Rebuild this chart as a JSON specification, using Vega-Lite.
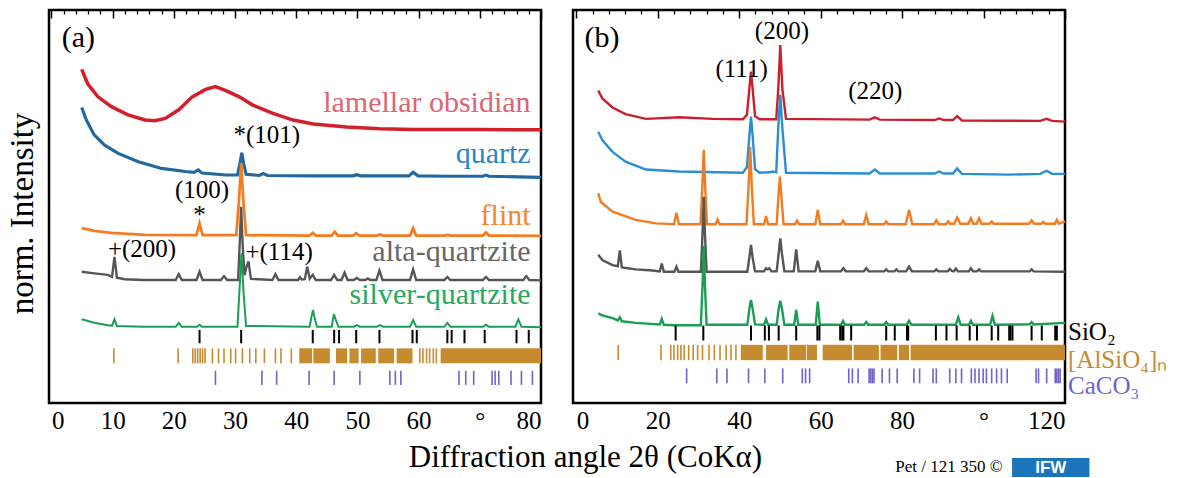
{
"$schema": "https://vega.github.io/schema/vega-lite/v6.json",
"background": "white",
"padding": {"left": 4, "top": 8, "right": 0, "bottom": 0},
"bounds": "flush",
"spacing": 32,
"config": {
 "view": {"stroke": "black", "strokeWidth": 2.5},
 "font": "Liberation Serif",
 "text": {"font": "Liberation Serif", "color": "black"},
 "axis": {"grid": false, "domain": false, "labelFont": "Liberation Serif", "titleFont": "Liberation Serif", "labelColor": "black", "titleColor": "black", "tickColor": "black", "titleFontWeight": "normal"}
},
"datasets": {
 "specA": [
  {"sample":"lamellar obsidian","angle":4.95,"intensity":84.9},{"sample":"lamellar obsidian","angle":5.9,"intensity":81.3},{"sample":"lamellar obsidian","angle":7.6,"intensity":77.9},{"sample":"lamellar obsidian","angle":9.8,"intensity":75.4},{"sample":"lamellar obsidian","angle":12.5,"intensity":73.3},{"sample":"lamellar obsidian","angle":15.3,"intensity":72.0},{"sample":"lamellar obsidian","angle":16.9,"intensity":71.8},{"sample":"lamellar obsidian","angle":18.6,"intensity":72.4},{"sample":"lamellar obsidian","angle":20.8,"intensity":74.6},{"sample":"lamellar obsidian","angle":23.0,"intensity":77.9},{"sample":"lamellar obsidian","angle":25.2,"intensity":79.8},{"sample":"lamellar obsidian","angle":26.8,"intensity":80.5},{"sample":"lamellar obsidian","angle":28.5,"intensity":79.5},{"sample":"lamellar obsidian","angle":30.7,"intensity":77.9},{"sample":"lamellar obsidian","angle":32.9,"intensity":75.8},{"sample":"lamellar obsidian","angle":36.2,"intensity":73.7},{"sample":"lamellar obsidian","angle":39.5,"intensity":72.0},{"sample":"lamellar obsidian","angle":42.8,"intensity":71.0},{"sample":"lamellar obsidian","angle":48.2,"intensity":70.2},{"sample":"lamellar obsidian","angle":53.7,"intensity":69.8},{"sample":"lamellar obsidian","angle":59.2,"intensity":69.6},{"sample":"lamellar obsidian","angle":64.7,"intensity":69.6},{"sample":"lamellar obsidian","angle":70.2,"intensity":69.6},{"sample":"lamellar obsidian","angle":75.7,"intensity":69.5},{"sample":"lamellar obsidian","angle":80,"intensity":69.5},
  {"sample":"quartz","angle":4.95,"intensity":75.2},{"sample":"quartz","angle":5.7,"intensity":72.0},{"sample":"quartz","angle":7.0,"intensity":68.2},{"sample":"quartz","angle":8.7,"intensity":65.6},{"sample":"quartz","angle":10.9,"intensity":63.5},{"sample":"quartz","angle":14.2,"intensity":61.4},{"sample":"quartz","angle":18.0,"intensity":59.7},{"sample":"quartz","angle":21.9,"intensity":58.9},{"sample":"quartz","angle":23.3,"intensity":58.7},{"sample":"quartz","angle":24.0,"intensity":59.3},{"sample":"quartz","angle":24.6,"intensity":58.5},{"sample":"quartz","angle":28.5,"intensity":58.0},{"sample":"quartz","angle":30.4,"intensity":58.0},{"sample":"quartz","angle":30.8,"intensity":61.0},{"sample":"quartz","angle":31.1,"intensity":63.7},{"sample":"quartz","angle":31.4,"intensity":61.0},{"sample":"quartz","angle":31.8,"intensity":58.2},{"sample":"quartz","angle":34.0,"intensity":57.9},{"sample":"quartz","angle":34.6,"intensity":58.4},{"sample":"quartz","angle":35.3,"intensity":57.9},{"sample":"quartz","angle":42.8,"intensity":57.8},{"sample":"quartz","angle":49.3,"intensity":57.8},{"sample":"quartz","angle":49.9,"intensity":58.1},{"sample":"quartz","angle":50.5,"intensity":57.8},{"sample":"quartz","angle":58.4,"intensity":57.8},{"sample":"quartz","angle":59.1,"intensity":58.7},{"sample":"quartz","angle":59.9,"intensity":57.8},{"sample":"quartz","angle":64.7,"intensity":57.7},{"sample":"quartz","angle":70.5,"intensity":57.7},{"sample":"quartz","angle":71.0,"intensity":58.0},{"sample":"quartz","angle":71.5,"intensity":57.7},{"sample":"quartz","angle":80,"intensity":57.4},
  {"sample":"flint","angle":4.95,"intensity":44.5},{"sample":"flint","angle":7.0,"intensity":43.8},{"sample":"flint","angle":9.8,"intensity":43.3},{"sample":"flint","angle":15.3,"intensity":42.8},{"sample":"flint","angle":23.0,"intensity":42.7},{"sample":"flint","angle":23.7,"intensity":42.7},{"sample":"flint","angle":24.2,"intensity":45.7},{"sample":"flint","angle":24.7,"intensity":42.7},{"sample":"flint","angle":30.2,"intensity":42.7},{"sample":"flint","angle":30.65,"intensity":51.7},{"sample":"flint","angle":31.0,"intensity":61.0},{"sample":"flint","angle":31.35,"intensity":51.7},{"sample":"flint","angle":31.8,"intensity":42.7},{"sample":"flint","angle":42.2,"intensity":42.6},{"sample":"flint","angle":42.7,"intensity":43.3},{"sample":"flint","angle":43.2,"intensity":42.6},{"sample":"flint","angle":45.8,"intensity":42.6},{"sample":"flint","angle":46.3,"intensity":43.6},{"sample":"flint","angle":46.8,"intensity":42.6},{"sample":"flint","angle":49.3,"intensity":42.6},{"sample":"flint","angle":49.8,"intensity":43.2},{"sample":"flint","angle":50.3,"intensity":42.6},{"sample":"flint","angle":53.2,"intensity":42.6},{"sample":"flint","angle":53.7,"intensity":42.9},{"sample":"flint","angle":54.2,"intensity":42.6},{"sample":"flint","angle":58.6,"intensity":42.6},{"sample":"flint","angle":59.1,"intensity":44.5},{"sample":"flint","angle":59.6,"intensity":42.6},{"sample":"flint","angle":64.2,"intensity":42.6},{"sample":"flint","angle":64.7,"intensity":42.8},{"sample":"flint","angle":65.2,"intensity":42.6},{"sample":"flint","angle":70.5,"intensity":42.6},{"sample":"flint","angle":71.0,"intensity":43.4},{"sample":"flint","angle":71.5,"intensity":42.6},{"sample":"flint","angle":80,"intensity":42.5},
  {"sample":"alta-quartzite","angle":4.95,"intensity":33.4},{"sample":"alta-quartzite","angle":7.0,"intensity":33.0},{"sample":"alta-quartzite","angle":9.2,"intensity":32.6},{"sample":"alta-quartzite","angle":9.9,"intensity":32.1},{"sample":"alta-quartzite","angle":10.3,"intensity":37.2},{"sample":"alta-quartzite","angle":10.7,"intensity":31.9},{"sample":"alta-quartzite","angle":12.0,"intensity":31.5},{"sample":"alta-quartzite","angle":15.0,"intensity":31.3},{"sample":"alta-quartzite","angle":20.3,"intensity":31.3},{"sample":"alta-quartzite","angle":20.8,"intensity":32.8},{"sample":"alta-quartzite","angle":21.3,"intensity":31.3},{"sample":"alta-quartzite","angle":23.7,"intensity":31.3},{"sample":"alta-quartzite","angle":24.2,"intensity":33.4},{"sample":"alta-quartzite","angle":24.7,"intensity":31.3},{"sample":"alta-quartzite","angle":27.7,"intensity":31.3},{"sample":"alta-quartzite","angle":28.2,"intensity":32.3},{"sample":"alta-quartzite","angle":28.7,"intensity":31.3},{"sample":"alta-quartzite","angle":30.5,"intensity":31.3},{"sample":"alta-quartzite","angle":30.75,"intensity":40.0},{"sample":"alta-quartzite","angle":31.0,"intensity":49.9},{"sample":"alta-quartzite","angle":31.25,"intensity":40.0},{"sample":"alta-quartzite","angle":31.55,"intensity":32.5},{"sample":"alta-quartzite","angle":31.85,"intensity":34.5},{"sample":"alta-quartzite","angle":32.2,"intensity":36.0},{"sample":"alta-quartzite","angle":32.6,"intensity":31.6},{"sample":"alta-quartzite","angle":36.1,"intensity":31.3},{"sample":"alta-quartzite","angle":36.6,"intensity":32.8},{"sample":"alta-quartzite","angle":37.1,"intensity":31.3},{"sample":"alta-quartzite","angle":40.3,"intensity":31.3},{"sample":"alta-quartzite","angle":40.6,"intensity":32.0},{"sample":"alta-quartzite","angle":40.9,"intensity":31.4},{"sample":"alta-quartzite","angle":41.4,"intensity":31.5},{"sample":"alta-quartzite","angle":41.8,"intensity":34.7},{"sample":"alta-quartzite","angle":42.2,"intensity":31.6},{"sample":"alta-quartzite","angle":42.7,"intensity":32.6},{"sample":"alta-quartzite","angle":43.2,"intensity":31.3},{"sample":"alta-quartzite","angle":45.7,"intensity":31.3},{"sample":"alta-quartzite","angle":46.2,"intensity":32.6},{"sample":"alta-quartzite","angle":46.7,"intensity":31.3},{"sample":"alta-quartzite","angle":47.4,"intensity":31.3},{"sample":"alta-quartzite","angle":47.9,"intensity":33.2},{"sample":"alta-quartzite","angle":48.4,"intensity":31.3},{"sample":"alta-quartzite","angle":49.4,"intensity":31.3},{"sample":"alta-quartzite","angle":49.9,"intensity":31.8},{"sample":"alta-quartzite","angle":50.4,"intensity":31.3},{"sample":"alta-quartzite","angle":51.3,"intensity":31.3},{"sample":"alta-quartzite","angle":51.7,"intensity":31.7},{"sample":"alta-quartzite","angle":52.1,"intensity":31.3},{"sample":"alta-quartzite","angle":53.1,"intensity":31.3},{"sample":"alta-quartzite","angle":53.6,"intensity":33.7},{"sample":"alta-quartzite","angle":54.1,"intensity":31.3},{"sample":"alta-quartzite","angle":58.6,"intensity":31.3},{"sample":"alta-quartzite","angle":59.1,"intensity":34.0},{"sample":"alta-quartzite","angle":59.6,"intensity":31.3},{"sample":"alta-quartzite","angle":64.2,"intensity":31.3},{"sample":"alta-quartzite","angle":64.7,"intensity":32.1},{"sample":"alta-quartzite","angle":65.2,"intensity":31.3},{"sample":"alta-quartzite","angle":70.5,"intensity":31.3},{"sample":"alta-quartzite","angle":71.0,"intensity":32.1},{"sample":"alta-quartzite","angle":71.5,"intensity":31.3},{"sample":"alta-quartzite","angle":77.1,"intensity":31.3},{"sample":"alta-quartzite","angle":77.6,"intensity":32.3},{"sample":"alta-quartzite","angle":78.1,"intensity":31.3},{"sample":"alta-quartzite","angle":80,"intensity":31.2},
  {"sample":"silver-quartzite","angle":4.95,"intensity":21.3},{"sample":"silver-quartzite","angle":7.0,"intensity":20.4},{"sample":"silver-quartzite","angle":9.2,"intensity":19.8},{"sample":"silver-quartzite","angle":9.9,"intensity":19.7},{"sample":"silver-quartzite","angle":10.3,"intensity":21.3},{"sample":"silver-quartzite","angle":10.7,"intensity":19.6},{"sample":"silver-quartzite","angle":15.0,"intensity":19.4},{"sample":"silver-quartzite","angle":20.3,"intensity":19.4},{"sample":"silver-quartzite","angle":20.8,"intensity":20.4},{"sample":"silver-quartzite","angle":21.3,"intensity":19.4},{"sample":"silver-quartzite","angle":23.8,"intensity":19.4},{"sample":"silver-quartzite","angle":24.2,"intensity":19.9},{"sample":"silver-quartzite","angle":24.6,"intensity":19.4},{"sample":"silver-quartzite","angle":30.4,"intensity":19.4},{"sample":"silver-quartzite","angle":30.7,"intensity":28.0},{"sample":"silver-quartzite","angle":31.05,"intensity":38.1},{"sample":"silver-quartzite","angle":31.4,"intensity":28.0},{"sample":"silver-quartzite","angle":31.8,"intensity":19.6},{"sample":"silver-quartzite","angle":42.2,"intensity":19.4},{"sample":"silver-quartzite","angle":42.5,"intensity":22.0},{"sample":"silver-quartzite","angle":42.75,"intensity":23.7},{"sample":"silver-quartzite","angle":43.1,"intensity":21.0},{"sample":"silver-quartzite","angle":43.4,"intensity":19.4},{"sample":"silver-quartzite","angle":45.8,"intensity":19.4},{"sample":"silver-quartzite","angle":46.15,"intensity":22.6},{"sample":"silver-quartzite","angle":46.5,"intensity":21.0},{"sample":"silver-quartzite","angle":46.9,"intensity":19.4},{"sample":"silver-quartzite","angle":49.4,"intensity":19.4},{"sample":"silver-quartzite","angle":49.9,"intensity":19.8},{"sample":"silver-quartzite","angle":50.4,"intensity":19.4},{"sample":"silver-quartzite","angle":53.2,"intensity":19.4},{"sample":"silver-quartzite","angle":53.7,"intensity":19.8},{"sample":"silver-quartzite","angle":54.2,"intensity":19.4},{"sample":"silver-quartzite","angle":58.6,"intensity":19.4},{"sample":"silver-quartzite","angle":59.1,"intensity":21.1},{"sample":"silver-quartzite","angle":59.6,"intensity":19.4},{"sample":"silver-quartzite","angle":64.2,"intensity":19.4},{"sample":"silver-quartzite","angle":64.7,"intensity":20.4},{"sample":"silver-quartzite","angle":65.2,"intensity":19.4},{"sample":"silver-quartzite","angle":70.5,"intensity":19.4},{"sample":"silver-quartzite","angle":71.0,"intensity":19.9},{"sample":"silver-quartzite","angle":71.5,"intensity":19.4},{"sample":"silver-quartzite","angle":75.8,"intensity":19.4},{"sample":"silver-quartzite","angle":76.3,"intensity":21.3},{"sample":"silver-quartzite","angle":76.8,"intensity":19.4},{"sample":"silver-quartzite","angle":80,"intensity":19.3}
 ],
 "specB": [
  {"sample":"lamellar obsidian","angle":5.4,"intensity":79.5},{"sample":"lamellar obsidian","angle":6.4,"intensity":77.5},{"sample":"lamellar obsidian","angle":8.9,"intensity":75.2},{"sample":"lamellar obsidian","angle":12.1,"intensity":73.5},{"sample":"lamellar obsidian","angle":17.1,"intensity":72.3},{"sample":"lamellar obsidian","angle":25.3,"intensity":72.7},{"sample":"lamellar obsidian","angle":33.5,"intensity":72.3},{"sample":"lamellar obsidian","angle":40.9,"intensity":72.2},{"sample":"lamellar obsidian","angle":41.9,"intensity":73.3},{"sample":"lamellar obsidian","angle":42.5,"intensity":80.0},{"sample":"lamellar obsidian","angle":42.9,"intensity":84.3},{"sample":"lamellar obsidian","angle":43.3,"intensity":80.0},{"sample":"lamellar obsidian","angle":43.9,"intensity":73.0},{"sample":"lamellar obsidian","angle":45.0,"intensity":72.2},{"sample":"lamellar obsidian","angle":49.1,"intensity":72.2},{"sample":"lamellar obsidian","angle":49.6,"intensity":80.0},{"sample":"lamellar obsidian","angle":50.1,"intensity":91.1},{"sample":"lamellar obsidian","angle":50.6,"intensity":80.0},{"sample":"lamellar obsidian","angle":51.5,"intensity":72.3},{"sample":"lamellar obsidian","angle":72.0,"intensity":72.1},{"sample":"lamellar obsidian","angle":73.3,"intensity":72.7},{"sample":"lamellar obsidian","angle":74.5,"intensity":72.1},{"sample":"lamellar obsidian","angle":88.0,"intensity":72.0},{"sample":"lamellar obsidian","angle":89.1,"intensity":72.4},{"sample":"lamellar obsidian","angle":90.2,"intensity":72.0},{"sample":"lamellar obsidian","angle":92.5,"intensity":72.0},{"sample":"lamellar obsidian","angle":93.5,"intensity":73.0},{"sample":"lamellar obsidian","angle":94.7,"intensity":71.9},{"sample":"lamellar obsidian","angle":113.9,"intensity":71.8},{"sample":"lamellar obsidian","angle":115.5,"intensity":72.3},{"sample":"lamellar obsidian","angle":116.8,"intensity":71.8},{"sample":"lamellar obsidian","angle":120,"intensity":71.6},
  {"sample":"quartz","angle":5.4,"intensity":69.0},{"sample":"quartz","angle":6.4,"intensity":66.9},{"sample":"quartz","angle":8.9,"intensity":63.9},{"sample":"quartz","angle":12.1,"intensity":61.4},{"sample":"quartz","angle":17.1,"intensity":59.4},{"sample":"quartz","angle":25.3,"intensity":58.9},{"sample":"quartz","angle":40.9,"intensity":58.6},{"sample":"quartz","angle":41.9,"intensity":60.0},{"sample":"quartz","angle":42.5,"intensity":68.0},{"sample":"quartz","angle":42.9,"intensity":72.9},{"sample":"quartz","angle":43.3,"intensity":68.0},{"sample":"quartz","angle":43.9,"intensity":59.5},{"sample":"quartz","angle":45.0,"intensity":58.6},{"sample":"quartz","angle":47.5,"intensity":58.7},{"sample":"quartz","angle":48.2,"intensity":58.9},{"sample":"quartz","angle":49.1,"intensity":58.7},{"sample":"quartz","angle":49.6,"intensity":70.0},{"sample":"quartz","angle":50.1,"intensity":78.4},{"sample":"quartz","angle":50.6,"intensity":70.0},{"sample":"quartz","angle":51.5,"intensity":58.6},{"sample":"quartz","angle":72.0,"intensity":58.4},{"sample":"quartz","angle":73.3,"intensity":59.4},{"sample":"quartz","angle":74.5,"intensity":58.4},{"sample":"quartz","angle":88.0,"intensity":58.4},{"sample":"quartz","angle":89.1,"intensity":58.9},{"sample":"quartz","angle":90.2,"intensity":58.4},{"sample":"quartz","angle":92.5,"intensity":58.4},{"sample":"quartz","angle":93.5,"intensity":59.7},{"sample":"quartz","angle":94.7,"intensity":58.3},{"sample":"quartz","angle":106.0,"intensity":58.1},{"sample":"quartz","angle":113.9,"intensity":58.3},{"sample":"quartz","angle":115.5,"intensity":59.1},{"sample":"quartz","angle":116.8,"intensity":58.3},{"sample":"quartz","angle":120,"intensity":58.3},
  {"sample":"flint","angle":5.4,"intensity":53.4},{"sample":"flint","angle":6.0,"intensity":51.2},{"sample":"flint","angle":8.9,"intensity":48.7},{"sample":"flint","angle":14.6,"intensity":46.6},{"sample":"flint","angle":19.5,"intensity":45.7},{"sample":"flint","angle":24.0,"intensity":45.5},{"sample":"flint","angle":24.6,"intensity":48.4},{"sample":"flint","angle":25.2,"intensity":45.5},{"sample":"flint","angle":30.5,"intensity":45.5},{"sample":"flint","angle":30.95,"intensity":55.0},{"sample":"flint","angle":31.3,"intensity":64.4},{"sample":"flint","angle":31.65,"intensity":55.0},{"sample":"flint","angle":32.1,"intensity":45.5},{"sample":"flint","angle":34.2,"intensity":45.5},{"sample":"flint","angle":34.7,"intensity":46.7},{"sample":"flint","angle":35.2,"intensity":45.5},{"sample":"flint","angle":41.8,"intensity":45.5},{"sample":"flint","angle":42.3,"intensity":55.0},{"sample":"flint","angle":42.7,"intensity":65.2},{"sample":"flint","angle":43.1,"intensity":55.0},{"sample":"flint","angle":43.6,"intensity":45.5},{"sample":"flint","angle":46.1,"intensity":45.5},{"sample":"flint","angle":46.6,"intensity":47.6},{"sample":"flint","angle":47.1,"intensity":45.5},{"sample":"flint","angle":49.2,"intensity":45.5},{"sample":"flint","angle":49.6,"intensity":52.0},{"sample":"flint","angle":50.0,"intensity":57.6},{"sample":"flint","angle":50.4,"intensity":52.0},{"sample":"flint","angle":50.9,"intensity":45.5},{"sample":"flint","angle":53.7,"intensity":45.5},{"sample":"flint","angle":54.2,"intensity":46.4},{"sample":"flint","angle":54.7,"intensity":45.5},{"sample":"flint","angle":58.7,"intensity":45.5},{"sample":"flint","angle":59.3,"intensity":49.1},{"sample":"flint","angle":59.9,"intensity":45.5},{"sample":"flint","angle":65.0,"intensity":45.5},{"sample":"flint","angle":65.5,"intensity":46.4},{"sample":"flint","angle":66.0,"intensity":45.5},{"sample":"flint","angle":70.6,"intensity":45.5},{"sample":"flint","angle":71.2,"intensity":47.8},{"sample":"flint","angle":71.8,"intensity":45.5},{"sample":"flint","angle":75.6,"intensity":45.5},{"sample":"flint","angle":76.1,"intensity":46.2},{"sample":"flint","angle":76.6,"intensity":45.5},{"sample":"flint","angle":80.9,"intensity":45.5},{"sample":"flint","angle":81.7,"intensity":49.1},{"sample":"flint","angle":82.5,"intensity":45.5},{"sample":"flint","angle":87.8,"intensity":45.5},{"sample":"flint","angle":88.4,"intensity":46.5},{"sample":"flint","angle":89.0,"intensity":45.5},{"sample":"flint","angle":90.8,"intensity":45.5},{"sample":"flint","angle":91.3,"intensity":46.2},{"sample":"flint","angle":91.8,"intensity":45.6},{"sample":"flint","angle":92.8,"intensity":45.6},{"sample":"flint","angle":93.5,"intensity":47.2},{"sample":"flint","angle":94.3,"intensity":45.6},{"sample":"flint","angle":96.3,"intensity":45.6},{"sample":"flint","angle":96.9,"intensity":47.0},{"sample":"flint","angle":97.5,"intensity":45.6},{"sample":"flint","angle":98.3,"intensity":45.6},{"sample":"flint","angle":98.9,"intensity":47.0},{"sample":"flint","angle":99.5,"intensity":45.6},{"sample":"flint","angle":101.5,"intensity":45.6},{"sample":"flint","angle":102.0,"intensity":46.2},{"sample":"flint","angle":102.5,"intensity":45.6},{"sample":"flint","angle":111.2,"intensity":45.6},{"sample":"flint","angle":111.8,"intensity":46.5},{"sample":"flint","angle":112.4,"intensity":45.6},{"sample":"flint","angle":114.2,"intensity":45.6},{"sample":"flint","angle":114.7,"intensity":46.1},{"sample":"flint","angle":115.2,"intensity":45.6},{"sample":"flint","angle":117.5,"intensity":45.6},{"sample":"flint","angle":118.0,"intensity":46.6},{"sample":"flint","angle":118.5,"intensity":45.6},{"sample":"flint","angle":120,"intensity":46.2},
  {"sample":"alta-quartzite","angle":5.4,"intensity":37.7},{"sample":"alta-quartzite","angle":6.4,"intensity":36.4},{"sample":"alta-quartzite","angle":8.9,"intensity":35.1},{"sample":"alta-quartzite","angle":10.2,"intensity":34.8},{"sample":"alta-quartzite","angle":10.7,"intensity":38.8},{"sample":"alta-quartzite","angle":11.2,"intensity":34.5},{"sample":"alta-quartzite","angle":14.6,"intensity":34.0},{"sample":"alta-quartzite","angle":18.7,"intensity":33.7},{"sample":"alta-quartzite","angle":20.5,"intensity":33.5},{"sample":"alta-quartzite","angle":21.0,"intensity":35.5},{"sample":"alta-quartzite","angle":21.5,"intensity":33.4},{"sample":"alta-quartzite","angle":24.1,"intensity":33.4},{"sample":"alta-quartzite","angle":24.6,"intensity":34.7},{"sample":"alta-quartzite","angle":25.1,"intensity":33.4},{"sample":"alta-quartzite","angle":30.6,"intensity":33.4},{"sample":"alta-quartzite","angle":31.0,"intensity":43.0},{"sample":"alta-quartzite","angle":31.3,"intensity":52.5},{"sample":"alta-quartzite","angle":31.6,"intensity":43.0},{"sample":"alta-quartzite","angle":32.0,"intensity":33.4},{"sample":"alta-quartzite","angle":42.0,"intensity":33.4},{"sample":"alta-quartzite","angle":42.5,"intensity":37.0},{"sample":"alta-quartzite","angle":42.9,"intensity":40.2},{"sample":"alta-quartzite","angle":43.3,"intensity":37.0},{"sample":"alta-quartzite","angle":43.9,"intensity":33.5},{"sample":"alta-quartzite","angle":46.1,"intensity":33.5},{"sample":"alta-quartzite","angle":46.6,"intensity":34.3},{"sample":"alta-quartzite","angle":47.0,"intensity":34.0},{"sample":"alta-quartzite","angle":47.4,"intensity":34.3},{"sample":"alta-quartzite","angle":47.9,"intensity":33.5},{"sample":"alta-quartzite","angle":49.2,"intensity":33.5},{"sample":"alta-quartzite","angle":49.7,"intensity":38.0},{"sample":"alta-quartzite","angle":50.1,"intensity":41.9},{"sample":"alta-quartzite","angle":50.5,"intensity":38.0},{"sample":"alta-quartzite","angle":51.1,"intensity":33.5},{"sample":"alta-quartzite","angle":53.4,"intensity":33.5},{"sample":"alta-quartzite","angle":54.0,"intensity":39.1},{"sample":"alta-quartzite","angle":54.6,"intensity":33.5},{"sample":"alta-quartzite","angle":58.7,"intensity":33.5},{"sample":"alta-quartzite","angle":59.3,"intensity":36.2},{"sample":"alta-quartzite","angle":59.9,"intensity":33.5},{"sample":"alta-quartzite","angle":65.0,"intensity":33.5},{"sample":"alta-quartzite","angle":65.6,"intensity":34.3},{"sample":"alta-quartzite","angle":66.2,"intensity":33.5},{"sample":"alta-quartzite","angle":70.6,"intensity":33.5},{"sample":"alta-quartzite","angle":71.2,"intensity":34.3},{"sample":"alta-quartzite","angle":71.8,"intensity":33.5},{"sample":"alta-quartzite","angle":75.6,"intensity":33.5},{"sample":"alta-quartzite","angle":76.1,"intensity":34.0},{"sample":"alta-quartzite","angle":76.6,"intensity":33.5},{"sample":"alta-quartzite","angle":78.1,"intensity":33.5},{"sample":"alta-quartzite","angle":78.6,"intensity":34.0},{"sample":"alta-quartzite","angle":79.1,"intensity":33.5},{"sample":"alta-quartzite","angle":81.0,"intensity":33.5},{"sample":"alta-quartzite","angle":81.7,"intensity":34.7},{"sample":"alta-quartzite","angle":82.4,"intensity":33.5},{"sample":"alta-quartzite","angle":87.9,"intensity":33.5},{"sample":"alta-quartzite","angle":88.4,"intensity":34.0},{"sample":"alta-quartzite","angle":88.9,"intensity":33.5},{"sample":"alta-quartzite","angle":91.2,"intensity":33.5},{"sample":"alta-quartzite","angle":91.7,"intensity":34.1},{"sample":"alta-quartzite","angle":92.2,"intensity":33.6},{"sample":"alta-quartzite","angle":92.7,"intensity":33.5},{"sample":"alta-quartzite","angle":93.2,"intensity":34.2},{"sample":"alta-quartzite","angle":93.7,"intensity":33.5},{"sample":"alta-quartzite","angle":96.4,"intensity":33.5},{"sample":"alta-quartzite","angle":96.9,"intensity":34.3},{"sample":"alta-quartzite","angle":97.4,"intensity":33.5},{"sample":"alta-quartzite","angle":98.4,"intensity":33.5},{"sample":"alta-quartzite","angle":98.9,"intensity":34.0},{"sample":"alta-quartzite","angle":99.4,"intensity":33.5},{"sample":"alta-quartzite","angle":111.3,"intensity":33.5},{"sample":"alta-quartzite","angle":111.8,"intensity":34.0},{"sample":"alta-quartzite","angle":112.3,"intensity":33.5},{"sample":"alta-quartzite","angle":120,"intensity":33.4},
  {"sample":"silver-quartzite","angle":5.4,"intensity":22.8},{"sample":"silver-quartzite","angle":6.4,"intensity":22.3},{"sample":"silver-quartzite","angle":8.9,"intensity":21.6},{"sample":"silver-quartzite","angle":10.2,"intensity":21.0},{"sample":"silver-quartzite","angle":10.7,"intensity":21.8},{"sample":"silver-quartzite","angle":11.2,"intensity":20.8},{"sample":"silver-quartzite","angle":14.6,"intensity":20.4},{"sample":"silver-quartzite","angle":20.5,"intensity":20.0},{"sample":"silver-quartzite","angle":21.0,"intensity":21.4},{"sample":"silver-quartzite","angle":21.5,"intensity":19.9},{"sample":"silver-quartzite","angle":24.0,"intensity":19.8},{"sample":"silver-quartzite","angle":30.6,"intensity":19.8},{"sample":"silver-quartzite","angle":31.0,"intensity":30.0},{"sample":"silver-quartzite","angle":31.3,"intensity":40.0},{"sample":"silver-quartzite","angle":31.6,"intensity":30.0},{"sample":"silver-quartzite","angle":32.0,"intensity":19.9},{"sample":"silver-quartzite","angle":42.0,"intensity":19.9},{"sample":"silver-quartzite","angle":42.5,"intensity":24.0},{"sample":"silver-quartzite","angle":42.9,"intensity":26.2},{"sample":"silver-quartzite","angle":43.3,"intensity":24.0},{"sample":"silver-quartzite","angle":43.9,"intensity":20.0},{"sample":"silver-quartzite","angle":46.1,"intensity":19.9},{"sample":"silver-quartzite","angle":46.6,"intensity":21.3},{"sample":"silver-quartzite","angle":47.1,"intensity":19.9},{"sample":"silver-quartzite","angle":49.2,"intensity":19.9},{"sample":"silver-quartzite","angle":49.7,"intensity":24.0},{"sample":"silver-quartzite","angle":50.1,"intensity":26.0},{"sample":"silver-quartzite","angle":50.5,"intensity":24.0},{"sample":"silver-quartzite","angle":51.1,"intensity":19.9},{"sample":"silver-quartzite","angle":53.5,"intensity":19.9},{"sample":"silver-quartzite","angle":54.0,"intensity":23.7},{"sample":"silver-quartzite","angle":54.5,"intensity":19.9},{"sample":"silver-quartzite","angle":58.8,"intensity":19.9},{"sample":"silver-quartzite","angle":59.3,"intensity":25.8},{"sample":"silver-quartzite","angle":59.8,"intensity":19.9},{"sample":"silver-quartzite","angle":65.0,"intensity":19.9},{"sample":"silver-quartzite","angle":65.5,"intensity":20.9},{"sample":"silver-quartzite","angle":66.0,"intensity":19.9},{"sample":"silver-quartzite","angle":70.7,"intensity":19.9},{"sample":"silver-quartzite","angle":71.2,"intensity":20.6},{"sample":"silver-quartzite","angle":71.7,"intensity":19.9},{"sample":"silver-quartzite","angle":75.6,"intensity":19.9},{"sample":"silver-quartzite","angle":76.1,"intensity":20.6},{"sample":"silver-quartzite","angle":76.6,"intensity":19.9},{"sample":"silver-quartzite","angle":81.1,"intensity":19.9},{"sample":"silver-quartzite","angle":81.7,"intensity":20.9},{"sample":"silver-quartzite","angle":82.3,"intensity":19.9},{"sample":"silver-quartzite","angle":93.2,"intensity":19.9},{"sample":"silver-quartzite","angle":93.8,"intensity":21.8},{"sample":"silver-quartzite","angle":94.4,"intensity":19.9},{"sample":"silver-quartzite","angle":96.4,"intensity":19.9},{"sample":"silver-quartzite","angle":96.9,"intensity":20.9},{"sample":"silver-quartzite","angle":97.4,"intensity":19.9},{"sample":"silver-quartzite","angle":101.6,"intensity":19.9},{"sample":"silver-quartzite","angle":102.2,"intensity":22.2},{"sample":"silver-quartzite","angle":102.8,"intensity":19.9},{"sample":"silver-quartzite","angle":111.3,"intensity":20.0},{"sample":"silver-quartzite","angle":111.8,"intensity":20.6},{"sample":"silver-quartzite","angle":112.3,"intensity":20.0},{"sample":"silver-quartzite","angle":120,"intensity":20.4}
 ],
 "ticksA": [
  {"phase":"SiO2","angle":24.2},{"phase":"SiO2","angle":31.0},{"phase":"SiO2","angle":42.7},{"phase":"SiO2","angle":46.2},{"phase":"SiO2","angle":47.0},{"phase":"SiO2","angle":49.8},{"phase":"SiO2","angle":53.6},{"phase":"SiO2","angle":59.0},{"phase":"SiO2","angle":59.7},{"phase":"SiO2","angle":64.7},{"phase":"SiO2","angle":65.4},{"phase":"SiO2","angle":67.5},{"phase":"SiO2","angle":70.8},{"phase":"SiO2","angle":76.0},{"phase":"SiO2","angle":78.0},
  {"phase":"AlSiO4","angle":10.2},{"phase":"AlSiO4","angle":20.7},{"phase":"AlSiO4","angle":23.1},{"phase":"AlSiO4","angle":23.5},{"phase":"AlSiO4","angle":23.9},{"phase":"AlSiO4","angle":24.3},{"phase":"AlSiO4","angle":24.7},{"phase":"AlSiO4","angle":25.1},{"phase":"AlSiO4","angle":26.3},{"phase":"AlSiO4","angle":27.3},{"phase":"AlSiO4","angle":28.2},{"phase":"AlSiO4","angle":29.3},{"phase":"AlSiO4","angle":30.1},{"phase":"AlSiO4","angle":31.2},{"phase":"AlSiO4","angle":32.4},{"phase":"AlSiO4","angle":33.4},{"phase":"AlSiO4","angle":34.8},{"phase":"AlSiO4","angle":36.6},{"phase":"AlSiO4","angle":37.5},{"phase":"AlSiO4","angle":39.2},{"phase":"AlSiO4","angle":60.2},{"phase":"AlSiO4","angle":60.7},{"phase":"AlSiO4","angle":61.3},{"phase":"AlSiO4","angle":61.8},{"phase":"AlSiO4","angle":62.4},{"phase":"AlSiO4","angle":62.9},
  {"phase":"CaCO3","angle":26.8},{"phase":"CaCO3","angle":34.4},{"phase":"CaCO3","angle":36.8},{"phase":"CaCO3","angle":42.1},{"phase":"CaCO3","angle":46.2},{"phase":"CaCO3","angle":50.4},{"phase":"CaCO3","angle":55.3},{"phase":"CaCO3","angle":56.2},{"phase":"CaCO3","angle":57.1},{"phase":"CaCO3","angle":66.6},{"phase":"CaCO3","angle":67.7},{"phase":"CaCO3","angle":69.0},{"phase":"CaCO3","angle":72.0},{"phase":"CaCO3","angle":72.5},{"phase":"CaCO3","angle":73.1},{"phase":"CaCO3","angle":75.1},{"phase":"CaCO3","angle":76.8},{"phase":"CaCO3","angle":78.6}
 ],
 "blocksA": [
  {"from":40.5,"to":42.6},{"from":42.8,"to":45.5},{"from":46.5,"to":48.3},{"from":48.7,"to":50.2},{"from":50.6,"to":53.0},{"from":53.4,"to":56.0},{"from":56.4,"to":59.0},{"from":63.6,"to":80}
 ],
 "ticksB": [
  {"phase":"SiO2","angle":24.4},{"phase":"SiO2","angle":31.2},{"phase":"SiO2","angle":42.9},{"phase":"SiO2","angle":46.3},{"phase":"SiO2","angle":47.3},{"phase":"SiO2","angle":49.7},{"phase":"SiO2","angle":54.0},{"phase":"SiO2","angle":59.2},{"phase":"SiO2","angle":59.7},{"phase":"SiO2","angle":64.8},{"phase":"SiO2","angle":65.3},{"phase":"SiO2","angle":65.6},{"phase":"SiO2","angle":67.5},{"phase":"SiO2","angle":76.1},{"phase":"SiO2","angle":78.2},{"phase":"SiO2","angle":81.2},{"phase":"SiO2","angle":81.5},{"phase":"SiO2","angle":88.3},{"phase":"SiO2","angle":90.9},{"phase":"SiO2","angle":93.4},{"phase":"SiO2","angle":96.6},{"phase":"SiO2","angle":98.4},{"phase":"SiO2","angle":102.0},{"phase":"SiO2","angle":103.6},{"phase":"SiO2","angle":106.3},{"phase":"SiO2","angle":106.6},{"phase":"SiO2","angle":107.1},{"phase":"SiO2","angle":111.8},{"phase":"SiO2","angle":114.3},{"phase":"SiO2","angle":117.6},{"phase":"SiO2","angle":118.0},
  {"phase":"AlSiO4","angle":10.3},{"phase":"AlSiO4","angle":20.8},{"phase":"AlSiO4","angle":23.2},{"phase":"AlSiO4","angle":24.0},{"phase":"AlSiO4","angle":24.9},{"phase":"AlSiO4","angle":25.7},{"phase":"AlSiO4","angle":26.5},{"phase":"AlSiO4","angle":27.6},{"phase":"AlSiO4","angle":28.7},{"phase":"AlSiO4","angle":29.8},{"phase":"AlSiO4","angle":31.0},{"phase":"AlSiO4","angle":32.6},{"phase":"AlSiO4","angle":33.9},{"phase":"AlSiO4","angle":35.3},{"phase":"AlSiO4","angle":36.8},{"phase":"AlSiO4","angle":38.0},{"phase":"AlSiO4","angle":39.2},
  {"phase":"CaCO3","angle":27.1},{"phase":"CaCO3","angle":34.5},{"phase":"CaCO3","angle":37.0},{"phase":"CaCO3","angle":42.3},{"phase":"CaCO3","angle":46.3},{"phase":"CaCO3","angle":50.7},{"phase":"CaCO3","angle":55.5},{"phase":"CaCO3","angle":56.3},{"phase":"CaCO3","angle":57.3},{"phase":"CaCO3","angle":66.9},{"phase":"CaCO3","angle":67.8},{"phase":"CaCO3","angle":69.2},{"phase":"CaCO3","angle":71.9},{"phase":"CaCO3","angle":72.3},{"phase":"CaCO3","angle":72.7},{"phase":"CaCO3","angle":73.1},{"phase":"CaCO3","angle":75.1},{"phase":"CaCO3","angle":76.9},{"phase":"CaCO3","angle":78.8},{"phase":"CaCO3","angle":82.9},{"phase":"CaCO3","angle":84.3},{"phase":"CaCO3","angle":87.6},{"phase":"CaCO3","angle":88.4},{"phase":"CaCO3","angle":91.7},{"phase":"CaCO3","angle":93.2},{"phase":"CaCO3","angle":94.6},{"phase":"CaCO3","angle":97.0},{"phase":"CaCO3","angle":97.9},{"phase":"CaCO3","angle":98.9},{"phase":"CaCO3","angle":99.9},{"phase":"CaCO3","angle":100.7},{"phase":"CaCO3","angle":102.0},{"phase":"CaCO3","angle":103.2},{"phase":"CaCO3","angle":104.4},{"phase":"CaCO3","angle":105.8},{"phase":"CaCO3","angle":112.9},{"phase":"CaCO3","angle":113.5},{"phase":"CaCO3","angle":115.5},{"phase":"CaCO3","angle":117.6},{"phase":"CaCO3","angle":118.0},{"phase":"CaCO3","angle":118.4},{"phase":"CaCO3","angle":118.8}
 ],
 "blocksB": [
  {"from":40.4,"to":45.8},{"from":46.6,"to":51.9},{"from":52.3,"to":56.4},{"from":56.6,"to":59.1},{"from":60.5,"to":67.7},{"from":68.1,"to":74.3},{"from":74.7,"to":78.8},{"from":79.2,"to":81.7},{"from":82.1,"to":120}
 ],
 "namesA": [
  {"sample":"lamellar obsidian","angle":78.3,"intensity":74.0},
  {"sample":"quartz","angle":78.3,"intensity":61.0},
  {"sample":"flint","angle":78.3,"intensity":45.2},
  {"sample":"alta-quartzite","angle":78.3,"intensity":36.2},
  {"sample":"silver-quartzite","angle":78.3,"intensity":25.2}
 ],
 "notesA": [
  {"label":"*(101)","angle":35.2,"intensity":66.1},
  {"label":"(100)","angle":24.6,"intensity":52.1},
  {"label":"*","angle":24.2,"intensity":45.8},
  {"label":"+(200)","angle":14.8,"intensity":37.2},
  {"label":"+(114)","angle":37.2,"intensity":36.3}
 ],
 "notesB": [
  {"label":"(111)","angle":40.6,"intensity":83.0},
  {"label":"(200)","angle":50.5,"intensity":92.6},
  {"label":"(220)","angle":73.4,"intensity":77.4}
 ]
},
"hconcat": [
 {
  "width": 492, "height": 393,
  "resolve": {"axis": {"x": "independent", "y": "independent"}, "scale": {"color": "independent"}},
  "layer": [
   {"data": {"name": "specA"}, "mark": {"type": "line"},
    "encoding": {
     "x": {"field": "angle", "type": "quantitative", "scale": {"domain": [-0.4, 80], "nice": false, "zero": false},
       "axis": {"values": [0,10,20,30,40,50,60,70,80], "labelExpr": "datum.value == 70 ? '°' : datum.label", "labelFlush": 6, "labelFontSize": 25, "labelBaseline": "alphabetic", "labelPadding": 25, "ticks": false, "title": "Diffraction angle 2θ (CoKα)", "titleFontSize": 31, "titleX": 536, "titleY": 63, "titleBaseline": "alphabetic", "titleAlign": "center", "titleAnchor": null}},
     "y": {"field": "intensity", "type": "quantitative", "scale": {"domain": [0, 100], "nice": false, "zero": false},
       "axis": {"labels": false, "ticks": false, "title": "norm. Intensity", "titleFontSize": 33, "titleX": -17, "titleY": 203, "titleAngle": -90, "titleBaseline": "alphabetic", "titleAlign": "center"}},
     "color": {"field": "sample", "type": "nominal", "legend": null, "scale": {"domain": ["lamellar obsidian","quartz","flint","alta-quartzite","silver-quartzite"], "range": ["#d21f2c","#23679f","#f47c20","#555555","#1a9e55"]}},
     "strokeWidth": {"field": "sample", "type": "nominal", "legend": null, "scale": {"domain": ["lamellar obsidian","quartz","flint","alta-quartzite","silver-quartzite"], "range": [3.5, 2, 2, 2.4, 2.4]}}
    }},
   {"data": {"name": "ticksA"}, "transform": [{"filter": "datum.phase == 'SiO2'"}], "mark": {"type": "rule", "color": "black", "strokeWidth": 2},
    "encoding": {"x": {"field": "angle", "type": "quantitative", "axis": {"values": [2,4,6,8,12,14,16,18,22,24,26,28,32,34,36,38,42,44,46,48,52,54,56,58,62,64,66,68,72,74,76,78], "labels": false, "ticks": true, "tickSize": -4, "tickWidth": 1.3, "title": null}},
     "y": {"datum": 15.2, "axis": null}, "y2": {"datum": 18.6}}},
   {"data": {"name": "ticksA"}, "transform": [{"filter": "datum.phase == 'AlSiO4'"}], "mark": {"type": "rule", "color": "#c68b2f", "strokeWidth": 1.6},
    "encoding": {"x": {"field": "angle", "type": "quantitative", "axis": {"values": [0,10,20,30,40,50,60,70,80], "labels": false, "ticks": true, "tickSize": -8, "tickWidth": 1.5, "title": null}},
     "y": {"datum": 10.1, "axis": null}, "y2": {"datum": 13.9}}},
   {"data": {"name": "blocksA"}, "mark": {"type": "rect", "color": "#c68b2f"},
    "encoding": {"x": {"field": "from", "type": "quantitative", "axis": null}, "x2": {"field": "to"},
     "y": {"datum": 10.1, "axis": null}, "y2": {"datum": 13.9}}},
   {"data": {"name": "ticksA"}, "transform": [{"filter": "datum.phase == 'CaCO3'"}], "mark": {"type": "rule", "color": "#6f63cc", "strokeWidth": 1.6},
    "encoding": {"x": {"field": "angle", "type": "quantitative", "axis": null},
     "y": {"datum": 4.6, "axis": null}, "y2": {"datum": 8.2}}},
   {"data": {"name": "notesA"}, "mark": {"type": "text", "fontSize": 25, "align": "center", "baseline": "alphabetic"},
    "encoding": {"x": {"field": "angle", "type": "quantitative", "axis": null}, "y": {"field": "intensity", "type": "quantitative", "axis": null}, "text": {"field": "label"}}},
   {"data": {"name": "namesA"}, "mark": {"type": "text", "fontSize": 30, "align": "right", "baseline": "alphabetic"},
    "encoding": {"x": {"field": "angle", "type": "quantitative", "axis": null}, "y": {"field": "intensity", "type": "quantitative", "axis": null}, "text": {"field": "sample"},
     "color": {"field": "sample", "type": "nominal", "legend": null, "scale": {"domain": ["lamellar obsidian","quartz","flint","alta-quartzite","silver-quartzite"], "range": ["#e0636f","#2a84c6","#f5862a","#666666","#25a85f"]}}}},
   {"data": {"values": [{"label": "(a)"}]}, "mark": {"type": "text", "fontSize": 30, "align": "center", "baseline": "alphabetic"},
    "encoding": {"x": {"datum": 4.4, "axis": null}, "y": {"datum": 90.6, "axis": null}, "text": {"field": "label"}}}
  ]
 },
 {
  "width": 492, "height": 393,
  "resolve": {"axis": {"x": "independent", "y": "independent"}, "scale": {"color": "independent"}},
  "layer": [
   {"data": {"name": "specB"}, "mark": {"type": "line", "strokeWidth": 2.4},
    "encoding": {
     "x": {"field": "angle", "type": "quantitative", "scale": {"domain": [-0.8, 120], "nice": false, "zero": false},
       "axis": {"values": [0,20,40,60,80,100,120], "labelExpr": "datum.value == 100 ? '°' : datum.label", "labelFlush": 6, "labelFontSize": 25, "labelBaseline": "alphabetic", "labelPadding": 25, "ticks": false, "title": null}},
     "y": {"field": "intensity", "type": "quantitative", "scale": {"domain": [0, 100], "nice": false, "zero": false}, "axis": null},
     "color": {"field": "sample", "type": "nominal", "legend": null, "scale": {"domain": ["lamellar obsidian","quartz","flint","alta-quartzite","silver-quartzite"], "range": ["#cc1f2c","#2a8ed4","#f47c20","#555555","#1a9e55"]}}
    }},
   {"data": {"name": "ticksB"}, "transform": [{"filter": "datum.phase == 'SiO2'"}], "mark": {"type": "rule", "color": "black", "strokeWidth": 2},
    "encoding": {"x": {"field": "angle", "type": "quantitative", "axis": {"values": [4,8,12,16,24,28,32,36,44,48,52,56,64,68,72,76,84,88,92,96,104,108,112,116], "labels": false, "ticks": true, "tickSize": -4, "tickWidth": 1.3, "title": null}},
     "y": {"datum": 15.9, "axis": null}, "y2": {"datum": 19.7}}},
   {"data": {"name": "ticksB"}, "transform": [{"filter": "datum.phase == 'AlSiO4'"}], "mark": {"type": "rule", "color": "#c68b2f", "strokeWidth": 1.6},
    "encoding": {"x": {"field": "angle", "type": "quantitative", "axis": {"values": [0,20,40,60,80,100,120], "labels": false, "ticks": true, "tickSize": -8, "tickWidth": 1.5, "title": null}},
     "y": {"datum": 10.9, "axis": null}, "y2": {"datum": 14.8}}},
   {"data": {"name": "blocksB"}, "mark": {"type": "rect", "color": "#c68b2f"},
    "encoding": {"x": {"field": "from", "type": "quantitative", "axis": null}, "x2": {"field": "to"},
     "y": {"datum": 10.9, "axis": null}, "y2": {"datum": 14.8}}},
   {"data": {"name": "ticksB"}, "transform": [{"filter": "datum.phase == 'CaCO3'"}], "mark": {"type": "rule", "color": "#6f63cc", "strokeWidth": 1.6},
    "encoding": {"x": {"field": "angle", "type": "quantitative", "axis": null},
     "y": {"datum": 5.0, "axis": null}, "y2": {"datum": 8.8}}},
   {"data": {"name": "notesB"}, "mark": {"type": "text", "fontSize": 25, "align": "center", "baseline": "alphabetic"},
    "encoding": {"x": {"field": "angle", "type": "quantitative", "axis": null}, "y": {"field": "intensity", "type": "quantitative", "axis": null}, "text": {"field": "label"}}},
   {"data": {"values": [{"label": "(b)"}]}, "mark": {"type": "text", "fontSize": 30, "align": "center", "baseline": "alphabetic"},
    "encoding": {"x": {"datum": 6.3, "axis": null}, "y": {"datum": 90.7, "axis": null}, "text": {"field": "label"}}},
   {"data": {"values": [{"label": "SiO₂"}]}, "mark": {"type": "text", "fontSize": 25, "align": "left", "baseline": "alphabetic", "dx": 3, "color": "black"},
    "encoding": {"x": {"datum": 120, "axis": null}, "y": {"datum": 16.0, "axis": null}, "text": {"field": "label"}}},
   {"data": {"values": [{"label": "[AlSiO₄]ₙ"}]}, "mark": {"type": "text", "fontSize": 25, "align": "left", "baseline": "alphabetic", "dx": 3, "color": "#c68b2f"},
    "encoding": {"x": {"datum": 120, "axis": null}, "y": {"datum": 9.0, "axis": null}, "text": {"field": "label"}}},
   {"data": {"values": [{"label": "CaCO₃"}]}, "mark": {"type": "text", "fontSize": 25, "align": "left", "baseline": "alphabetic", "dx": 3, "color": "#6f63cc"},
    "encoding": {"x": {"datum": 120, "axis": null}, "y": {"datum": 2.2, "axis": null}, "text": {"field": "label"}}},
   {"data": {"values": [{"label": "Pet / 121 350 ©"}]}, "mark": {"type": "text", "fontSize": 17, "align": "center", "baseline": "alphabetic", "color": "black"},
    "encoding": {"x": {"datum": 91.5, "axis": null}, "y": {"datum": -17.6, "axis": null}, "text": {"field": "label"}}},
   {"data": {"values": [{"label": "IFW"}]}, "mark": {"type": "rect", "color": "#1b75bb"},
    "encoding": {"x": {"datum": 107.0, "axis": null}, "x2": {"datum": 126.0}, "y": {"datum": -14.0, "axis": null}, "y2": {"datum": -18.8}}},
   {"data": {"values": [{"label": "IFW"}]}, "mark": {"type": "text", "fontSize": 17, "font": "Liberation Sans", "fontWeight": "bold", "align": "center", "baseline": "alphabetic", "color": "white"},
    "encoding": {"x": {"datum": 116.5, "axis": null}, "y": {"datum": -17.9, "axis": null}, "text": {"field": "label"}}}
  ]
 }
]
}
